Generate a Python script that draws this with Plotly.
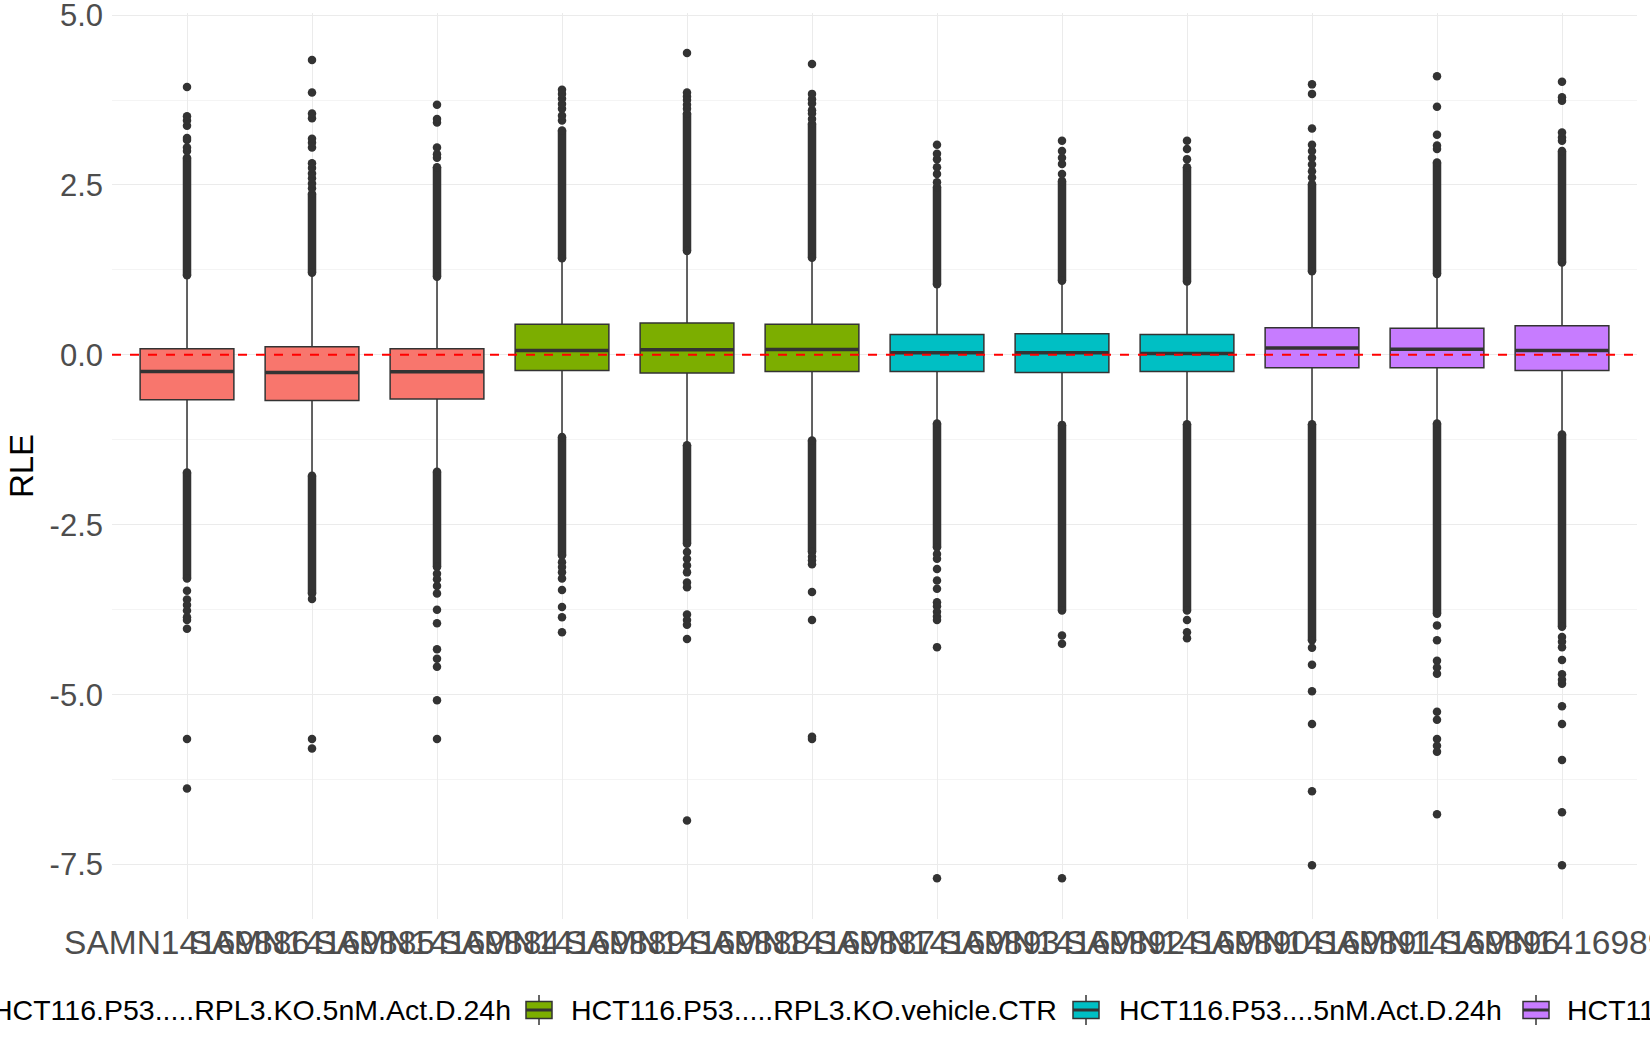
import plotly.graph_objects as go

# samples (x axis), in plotting order
samples = ["SAMN14169886", "SAMN14169885", "SAMN14169884",
           "SAMN14169889", "SAMN14169888", "SAMN14169887",
           "SAMN14169893", "SAMN14169892", "SAMN14169890",
           "SAMN14169891", "SAMN14169896", "SAMN14169895"]
sample_group = [0, 0, 0, 1, 1, 1, 2, 2, 2, 3, 3, 3]

group_names = ["HCT116.P53.....RPL3.KO.5nM.Act.D.24h",
               "HCT116.P53.....RPL3.KO.vehicle.CTR",
               "HCT116.P53....5nM.Act.D.24h",
               "HCT116.P53....vehicle.CTR"]
group_colors = ["#F8766D", "#7CAE00", "#00BFC4", "#C77CFF"]

# box statistics (RLE)
q1 = [-0.66, -0.67, -0.65, -0.23, -0.265, -0.245, -0.245, -0.26, -0.245, -0.19, -0.19, -0.23]
median = [-0.245, -0.26, -0.25, 0.064, 0.074, 0.078, 0.03, 0.03, 0.02, 0.10, 0.083, 0.064]
q3 = [0.09, 0.12, 0.09, 0.45, 0.47, 0.45, 0.30, 0.31, 0.30, 0.40, 0.39, 0.43]
lower_whisker = [-1.71, -1.76, -1.70, -1.19, -1.31, -1.24, -0.99, -1.02, -1.01, -1.01, -1.00, -1.16]
upper_whisker = [1.14, 1.19, 1.13, 1.39, 1.51, 1.41, 1.02, 1.07, 1.06, 1.21, 1.17, 1.34]

# outliers: the dense stretches (first, last point) and the isolated points
upper_dense = [(1.17, 2.90), (1.21, 2.37), (1.15, 2.76), (1.42, 3.30), (1.53, 3.55), (1.43, 3.40),
               (1.04, 2.47), (1.09, 2.56), (1.08, 2.76), (1.23, 2.51), (1.19, 2.83), (1.36, 3.00)]
lower_dense = [(-1.73, -3.29), (-1.78, -3.51), (-1.72, -3.12), (-1.21, -2.95), (-1.33, -2.78), (-1.26, -2.90),
               (-1.01, -2.83), (-1.03, -3.76), (-1.02, -3.76), (-1.02, -4.20), (-1.01, -3.81), (-1.17, -4.00)]
upper_points = [
    [3.0, 3.05, 3.16, 3.19, 3.37, 3.45, 3.51, 3.94],
    [2.45, 2.52, 2.6, 2.67, 2.75, 2.82, 3.05, 3.12, 3.18, 3.48, 3.55, 3.86, 4.34],
    [2.9, 2.95, 3.05, 3.42, 3.47, 3.68],
    [3.45, 3.52, 3.62, 3.69, 3.77, 3.84, 3.9],
    [3.62, 3.68, 3.75, 3.8, 3.86, 4.44],
    [3.47, 3.55, 3.6, 3.7, 3.76, 3.84, 4.28],
    [2.54, 2.66, 2.76, 2.88, 2.96, 3.09],
    [2.66, 2.81, 2.9, 3.0, 3.15],
    [2.88, 3.03, 3.15],
    [2.61, 2.7, 2.8, 2.9, 3.0, 3.09, 3.33, 3.84, 3.98],
    [3.03, 3.08, 3.24, 3.65, 4.1],
    [3.15, 3.2, 3.27, 3.74, 3.79, 4.02],
]
lower_points = [
    [-3.47, -3.6, -3.68, -3.76, -3.86, -3.9, -4.03, -5.65, -6.38],
    [-3.59, -5.65, -5.79],
    [-3.22, -3.3, -3.4, -3.51, -3.75, -3.95, -4.33, -4.47, -4.59, -5.08, -5.65],
    [-3.05, -3.12, -3.2, -3.29, -3.46, -3.71, -3.86, -4.08],
    [-2.9, -3.0, -3.1, -3.2, -3.35, -3.42, -3.82, -3.9, -3.97, -4.18, -6.85],
    [-2.97, -3.02, -3.08, -3.49, -3.9, -5.62, -5.65],
    [-2.93, -3.0, -3.15, -3.32, -3.44, -3.64, -3.7, -3.78, -3.85, -3.9, -4.3, -7.7],
    [-4.13, -4.25, -7.7],
    [-3.9, -4.08, -4.17],
    [-4.31, -4.56, -4.95, -5.43, -6.42, -7.51],
    [-3.98, -4.2, -4.5, -4.6, -4.69, -5.25, -5.37, -5.65, -5.75, -5.84, -6.76],
    [-4.15, -4.22, -4.3, -4.49, -4.7, -4.78, -4.84, -5.17, -5.43, -5.96, -6.73, -7.51],
]

y_ticks = [-7.5, -5.0, -2.5, 0.0, 2.5, 5.0]
y_minor = [-6.25, -3.75, -1.25, 1.25, 3.75]

FONT = "Liberation Sans, Arial, sans-serif"
DARK = "#333333"
BOX_W = 0.75

fig = go.Figure()

for i, s in enumerate(samples):
    g = sample_group[i]
    fig.add_trace(go.Box(
        x=[i], q1=[q1[i]], median=[median[i]], q3=[q3[i]],
        lowerfence=[lower_whisker[i]], upperfence=[upper_whisker[i]],
        width=BOX_W, whiskerwidth=0, boxpoints=False,
        fillcolor=group_colors[g], line=dict(color=DARK, width=1.5),
        name=s, showlegend=False, hoverinfo="skip",
    ))

# thicker median bars (ggplot fattens them)
mx, my = [], []
for i in range(len(samples)):
    mx += [i - BOX_W / 2, i + BOX_W / 2, None]
    my += [median[i], median[i], None]
fig.add_trace(go.Scatter(x=mx, y=my, mode="lines", line=dict(color=DARK, width=3.5),
                         showlegend=False, hoverinfo="skip"))

# dense outlier stretches
dx, dy = [], []
for i in range(len(samples)):
    for lo, hi in (upper_dense[i], lower_dense[i]):
        dx += [i, i, None]
        dy += [lo, hi, None]
fig.add_trace(go.Scatter(x=dx, y=dy, mode="lines+markers",
                         line=dict(color=DARK, width=8.5), marker=dict(color=DARK, size=8.5),
                         showlegend=False, hoverinfo="skip"))

# isolated outliers
px_, py_ = [], []
for i in range(len(samples)):
    for v in upper_points[i] + lower_points[i]:
        px_.append(i)
        py_.append(v)
fig.add_trace(go.Scatter(x=px_, y=py_, mode="markers", marker=dict(color=DARK, size=8.5),
                         showlegend=False, hoverinfo="skip"))

# reference line at 0
fig.add_hline(y=0, line=dict(color="red", width=2, dash="9px,9px"), layer="above")

# panel position in pixels
PL, PR, PT, PB = 112, 1637, 13, 919


def to_px(p):
    return (p - PL) / (PR - PL)


def to_py(p):
    return (PB - p) / (PB - PT)


# legend drawn by hand: ggplot lets it run off both sides of the image
key_centers = [-25, 539, 1086, 1536]
text_left = [None, 569, 1117, 1565]
legend_y = 1010
shapes = []
annotations = []
for k, name in enumerate(group_names):
    c = key_centers[k]
    shapes.append(dict(type="line", xref="paper", yref="paper", x0=to_px(c), x1=to_px(c),
                       y0=to_py(legend_y - 15), y1=to_py(legend_y + 15), line=dict(color=DARK, width=1.5)))
    shapes.append(dict(type="rect", xref="paper", yref="paper", x0=to_px(c - 13), x1=to_px(c + 13),
                       y0=to_py(legend_y - 8.5), y1=to_py(legend_y + 8.5),
                       fillcolor=group_colors[k], line=dict(color=DARK, width=1.5)))
    shapes.append(dict(type="line", xref="paper", yref="paper", x0=to_px(c - 13), x1=to_px(c + 13),
                       y0=to_py(legend_y), y1=to_py(legend_y), line=dict(color=DARK, width=3)))
    if text_left[k] is None:
        annotations.append(dict(text=name, xref="paper", yref="paper", x=to_px(513), y=to_py(legend_y),
                                xanchor="right", yanchor="middle", showarrow=False,
                                font=dict(family=FONT, size=28.5, color="black")))
    else:
        annotations.append(dict(text=name, xref="paper", yref="paper", x=to_px(text_left[k]), y=to_py(legend_y),
                                xanchor="left", yanchor="middle", showarrow=False,
                                font=dict(family=FONT, size=28.5, color="black")))

fig.update_layout(
    width=1650, height=1050,
    margin=dict(l=PL, r=1650 - PR, t=PT, b=1050 - PB),
    plot_bgcolor="white", paper_bgcolor="white",
    font=dict(family=FONT, color="#4D4D4D"),
    showlegend=False,
    shapes=shapes,
    annotations=annotations,
)
fig.update_xaxes(
    range=[-0.6, len(samples) - 0.4],
    tickvals=list(range(len(samples))), ticktext=samples,
    tickangle=0, automargin=False, ticklabeloverflow="allow",
    tickfont=dict(size=33.5, color="#4D4D4D"),
    showgrid=True, gridcolor="#EBEBEB", gridwidth=1,
    zeroline=False, showline=False, ticks="",
)
fig.update_yaxes(
    range=[-8.3, 5.03],
    tickvals=y_ticks, ticktext=["%.1f" % v for v in y_ticks],
    automargin=False, ticklabeloverflow="allow", ticklabelstandoff=8,
    tickfont=dict(size=31, color="#4D4D4D"),
    showgrid=True, gridcolor="#EBEBEB", gridwidth=1.2,
    minor=dict(tickvals=y_minor, showgrid=True, gridcolor="#F4F4F4", gridwidth=0.8),
    zeroline=False, showline=False, ticks="",
    title=dict(text="RLE", font=dict(size=33, color="black"), standoff=6),
)

# the page's default body margin would push the figure 8px down and right
fig.write_html("out.html", config={"displayModeBar": False},
               post_script="document.body.style.margin='0px';")
